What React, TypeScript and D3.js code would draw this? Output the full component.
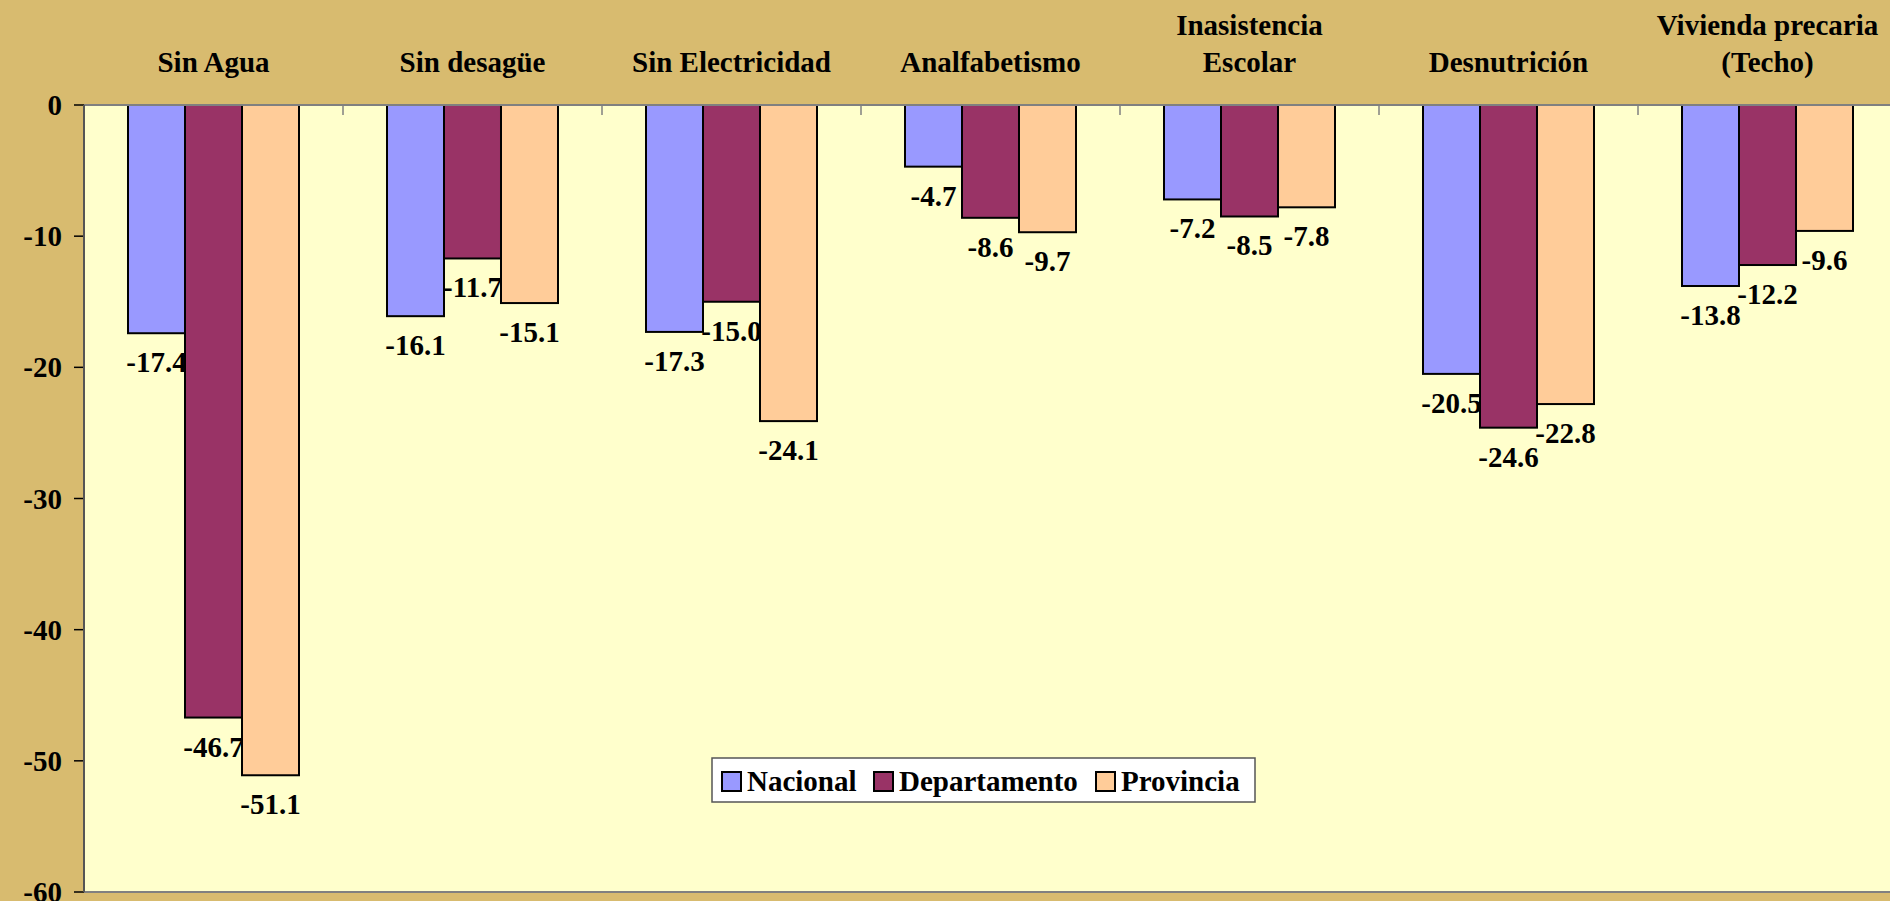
import React from "react";
import * as d3 from "d3";

const categories = [
  ["Sin Agua"],
  ["Sin desagüe"],
  ["Sin Electricidad"],
  ["Analfabetismo"],
  ["Inasistencia", "Escolar"],
  ["Desnutrición"],
  ["Vivienda precaria", "(Techo)"],
];
const seriesNames = ["Nacional", "Departamento", "Provincia"];
const nacional = [-17.4, -16.1, -17.3, -4.7, -7.2, -20.5, -13.8];
const departamento = [-46.7, -11.7, -15.0, -8.6, -8.5, -24.6, -12.2];
const provincia = [-51.1, -15.1, -24.1, -9.7, -7.8, -22.8, -9.6];
const yTicks = [0, -10, -20, -30, -40, -50, -60];

const colors = ["#9999FF", "#993366", "#FFCC99"];
const font = "'Liberation Serif', 'Times New Roman', serif";
const fs = 29;

const W = 1890;
const H = 901;
const plot = { left: 84, top: 105, right: 1897, bottom: 892 };

export default function App() {
  const values = [nacional, departamento, provincia];
  const keys = categories.map((c) => c.join(" "));

  const x = d3.scaleBand().domain(keys).range([plot.left, plot.right]).padding(0);
  const inner = d3
    .scaleBand()
    .domain(seriesNames)
    .range([0, x.bandwidth()])
    .paddingInner(0)
    .paddingOuter(0.772);
  const y = d3.scaleLinear().domain([-60, 0]).range([plot.bottom, plot.top]);

  const bars = values.flatMap((vals, si) =>
    vals.map((v, ci) => ({
      key: `${si}-${ci}`,
      x: (x(keys[ci]) ?? 0) + (inner(seriesNames[si]) ?? 0),
      y0: y(0),
      y1: y(v),
      v,
      color: colors[si],
    }))
  );
  const bw = inner.bandwidth();

  // legend layout (swatch x positions)
  const legendX = [722, 874, 1096];

  return (
    <svg
      width={W}
      height={H}
      style={{ position: "absolute", left: 0, top: 0, display: "block" }}
      fontFamily={font}
      fontWeight="bold"
    >
      <rect width={W} height={H} fill="#D8BB6F" />
      <rect
        x={plot.left}
        y={plot.top}
        width={plot.right - plot.left}
        height={plot.bottom - plot.top}
        fill="#FFFFCC"
      />
      {/* bottom border of plot area */}
      <line x1={plot.left} x2={plot.right} y1={plot.bottom} y2={plot.bottom} stroke="#808080" strokeWidth={2} />

      {/* category labels */}
      {categories.map((lines, ci) => {
        const cx = (x(keys[ci]) ?? 0) + x.bandwidth() / 2;
        return (
          <text key={ci} x={cx} textAnchor="middle" fontSize={fs} fill="#000">
            {lines.map((l, li) => (
              <tspan key={li} x={cx} y={72 - (lines.length - 1 - li) * 37}>
                {l}
              </tspan>
            ))}
          </text>
        );
      })}

      {/* y axis ticks and labels */}
      {yTicks.map((t) => (
        <g key={t}>
          <line x1={74} x2={plot.left} y1={y(t)} y2={y(t)} stroke="#000" strokeWidth={1.5} />
          <text x={62} y={y(t)} dy="0.35em" textAnchor="end" fontSize={fs} fill="#000">
            {t}
          </text>
        </g>
      ))}

      {/* data labels (drawn under bars) */}
      {bars.map((b) => (
        <text
          key={"l" + b.key}
          x={b.x + bw / 2}
          y={b.y1 + 39}
          textAnchor="middle"
          fontSize={fs}
          fill="#000"
        >
          {b.v.toFixed(1)}
        </text>
      ))}

      {/* bars */}
      {bars.map((b) => (
        <rect
          key={b.key}
          x={b.x}
          y={b.y0}
          width={bw}
          height={b.y1 - b.y0}
          fill={b.color}
          stroke="#000"
          strokeWidth={2}
        />
      ))}

      {/* category axis at zero */}
      <line x1={plot.left} x2={plot.right} y1={y(0)} y2={y(0)} stroke="#808080" strokeWidth={2} />
      {keys.slice(1).map((k) => (
        <line key={k} x1={x(k)} x2={x(k)} y1={y(0)} y2={y(0) + 10} stroke="#808080" strokeWidth={1.5} />
      ))}
      {/* value axis line */}
      <line x1={plot.left} x2={plot.left} y1={plot.top} y2={plot.bottom} stroke="#555" strokeWidth={2} />

      {/* legend */}
      <g>
        <rect x={712} y={758} width={543} height={44} fill="#FFFFFF" stroke="#555" strokeWidth={1.5} />
        {seriesNames.map((s, i) => {
          const lx = legendX[i];
          return (
            <g key={s}>
              <rect x={lx} y={772} width={19} height={19} fill={colors[i]} stroke="#000" strokeWidth={2} />
              <text x={lx + 25} y={791} fontSize={fs} fill="#000">
                {s}
              </text>
            </g>
          );
        })}
      </g>
    </svg>
  );
}
